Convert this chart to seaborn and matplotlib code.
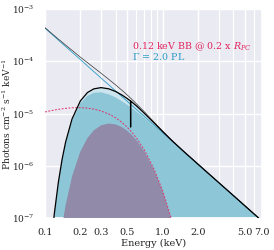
import matplotlib
matplotlib.use("Agg")
import matplotlib.pyplot as plt
import matplotlib.ticker as mticker
import seaborn as sns

# model curves (photons cm^-2 s^-1 keV^-1)
energy = [0.1, 0.11, 0.12, 0.13, 0.14, 0.15, 0.17, 0.2, 0.23, 0.26, 0.3, 0.35, 0.4,
          0.45, 0.5, 0.535, 0.6, 0.7, 0.85, 1.0, 1.2, 1.5, 2.0, 3.0, 4.0, 5.0, 7.0]
pl_unabs = [4.3e-4, 3.55e-4, 2.99e-4, 2.54e-4, 2.19e-4, 1.91e-4, 1.49e-4, 1.08e-4, 8.13e-5,
            6.36e-5, 4.78e-5, 3.51e-5, 2.69e-5, 2.12e-5, 1.72e-5, 1.50e-5, 1.19e-5, 8.78e-6,
            5.95e-6, 4.3e-6, 2.99e-6, 1.91e-6, 1.08e-6, 4.78e-7, 2.69e-7, 1.72e-7, 8.78e-8]
tot_unabs = [4.41e-4, 3.67e-4, 3.10e-4, 2.66e-4, 2.32e-4, 2.04e-4, 1.62e-4, 1.20e-4, 9.40e-5,
             7.58e-5, 5.90e-5, 4.48e-5, 3.51e-5, 2.80e-5, 2.27e-5, 1.97e-5, 1.53e-5, 1.08e-5,
             6.79e-6, 4.63e-6, 3.08e-6, 1.92e-6, 1.08e-6, 4.78e-7, 2.69e-7, 1.72e-7, 8.78e-8]
pl_abs = [9.7e-10, 1.61e-8, 1.14e-7, 4.58e-7, 1.27e-6, 2.69e-6, 7.25e-6, 1.56e-5, 2.18e-5,
          2.49e-5, 2.54e-5, 2.32e-5, 2.02e-5, 1.72e-5, 1.47e-5, 1.32e-5, 1.09e-5, 8.25e-6,
          5.74e-6, 4.20e-6, 2.94e-6, 1.90e-6, 1.07e-6, 4.77e-7, 2.69e-7, 1.72e-7, 8.78e-8]

# absorbed total, with the glitch at the oxygen edge
tot_energy = [0.1, 0.11, 0.12, 0.13, 0.14, 0.15, 0.17, 0.2, 0.23, 0.26, 0.3, 0.35, 0.4,
              0.45, 0.5, 0.534, 0.535, 0.536, 0.6, 0.7, 0.85, 1.0, 1.2, 1.5, 2.0, 3.0,
              4.0, 5.0, 7.0]
tot_abs = [1.0e-9, 1.66e-8, 1.18e-7, 4.80e-7, 1.34e-6, 2.86e-6, 7.87e-6, 1.74e-5, 2.52e-5,
           2.96e-5, 3.13e-5, 2.96e-5, 2.63e-5, 2.27e-5, 1.94e-5, 1.74e-5, 5.5e-6, 1.73e-5,
           1.40e-5, 1.01e-5, 6.55e-6, 4.53e-6, 3.03e-6, 1.91e-6, 1.07e-6, 4.77e-7, 2.69e-7,
           1.72e-7, 8.78e-8]

bb_energy = [0.1, 0.11, 0.12, 0.13, 0.14, 0.15, 0.17, 0.2, 0.23, 0.26, 0.3, 0.35, 0.4,
             0.45, 0.5, 0.535, 0.6, 0.7, 0.85, 1.0, 1.2, 1.5, 2.0]
bb_unabs = [1.07e-5, 1.12e-5, 1.165e-5, 1.20e-5, 1.23e-5, 1.256e-5, 1.286e-5, 1.295e-5,
            1.268e-5, 1.216e-5, 1.119e-5, 9.74e-6, 8.23e-6, 6.78e-6, 5.47e-6, 4.66e-6,
            3.40e-6, 2.0e-6, 8.43e-7, 3.34e-7, 9.09e-8, 1.17e-8, 3.2e-10]
bb_abs = [2.4e-11, 5.1e-10, 4.43e-9, 2.16e-8, 7.12e-8, 1.77e-7, 6.26e-7, 1.87e-6, 3.40e-6,
          4.75e-6, 5.94e-6, 6.43e-6, 6.17e-6, 5.51e-6, 4.68e-6, 4.10e-6, 3.09e-6, 1.88e-6,
          8.13e-7, 3.26e-7, 8.96e-8, 1.16e-8, 3.2e-10]

xticks = [0.1, 0.2, 0.3, 0.5, 1.0, 2.0, 5.0, 7.0]
bb_label = "0.12 keV BB @ 0.2 x $R_{PC}$"
pl_label = r"$\Gamma$ = 2.0 PL"

sns.set_theme(style="darkgrid")
plt.rcParams['font.family'] = ['DejaVu Serif']
plt.rcParams['mathtext.fontset'] = 'dejavuserif'

fig, ax = plt.subplots(figsize=(2.74, 2.5), dpi=100)
fig.subplots_adjust(left=0.164, right=0.956, top=0.964, bottom=0.128)

floor = 1e-10
ax.fill_between(tot_energy, floor, tot_abs, color="#cbe4ed", lw=0, zorder=1)
ax.fill_between(energy, floor, pl_abs, color="#8cc6d7", lw=0, zorder=2)
ax.fill_between(bb_energy, floor, bb_abs, color="#918ba9", lw=0, zorder=3)

sns.lineplot(x=bb_energy, y=bb_unabs, ax=ax, color="#e2336b", lw=0.7,
             linestyle=(0, (2, 1.5)), zorder=4)
sns.lineplot(x=energy, y=pl_unabs, ax=ax, color="#2b9bc6", lw=0.6, zorder=5)
sns.lineplot(x=energy, y=tot_unabs, ax=ax, color="#333333", lw=0.5, zorder=5)
sns.lineplot(x=tot_energy, y=tot_abs, ax=ax, color="black", lw=0.9, zorder=6)

ax.set_xscale("log")
ax.set_yscale("log")
ax.set_xlim(0.1, 7.0)
ax.set_ylim(1e-7, 1e-3)
ax.set_xticks(xticks)
ax.xaxis.set_major_formatter(mticker.FormatStrFormatter("%.1f"))
ax.xaxis.set_minor_formatter(mticker.NullFormatter())
ax.xaxis.grid(True, which="minor", color="white", lw=0.8)
ax.tick_params(axis="x", labelsize=7, pad=1.5)
ax.tick_params(axis="y", labelsize=6.5, pad=1.5)

ax.set_xlabel("Energy (keV)", fontsize=7, labelpad=1)
ax.set_ylabel("Photons cm$^{-2}$ s$^{-1}$ keV$^{-1}$", fontsize=6.6)
ax.yaxis.set_label_coords(-0.148, 0.5)

ax.text(0.40, 0.821, bb_label, color="#e2245e", fontsize=6.8, transform=ax.transAxes,
        va="center", ha="left", zorder=7)
ax.text(0.40, 0.772, pl_label, color="#2b9bc6", fontsize=6.8, transform=ax.transAxes,
        va="center", ha="left", zorder=7)

plt.savefig("out.png", dpi=100)
